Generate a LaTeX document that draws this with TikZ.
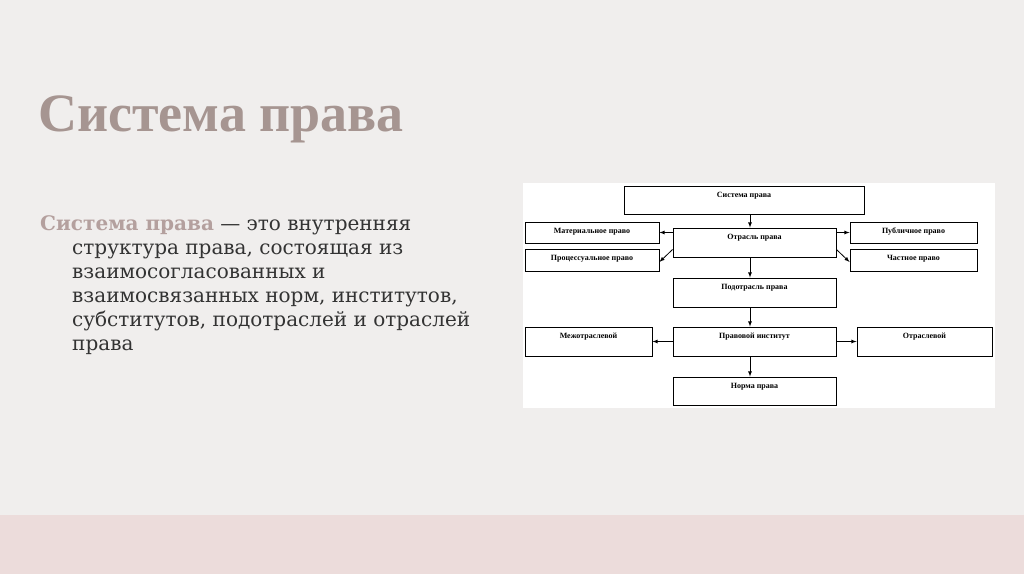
\documentclass[tikz,border=0pt]{standalone}
\usepackage{fontspec}
\setmainfont{Liberation Serif}
\newfontfamily\bodyfont{DejaVu Serif}
\begin{document}
\begin{tikzpicture}[x=1pt,y=-1pt,
  box/.style={draw=black,line width=0.9pt,fill=white,inner sep=0pt},
  lbl/.style={font=\fontsize{8}{9}\selectfont\bfseries,anchor=north},
  arr/.style={-latex,line width=0.8pt},
  body/.style={anchor=base west,inner sep=0pt,text=black!80,font=\bodyfont\fontsize{20}{24}\selectfont}]
\useasboundingbox (0,0) rectangle (1024,574);
\fill[color={rgb,255:red,240;green,238;blue,237}] (0,0) rectangle (1024,574);
\fill[color={rgb,255:red,236;green,220;blue,219}] (0,515) rectangle (1024,574);
\node[anchor=base west,inner sep=0pt,text={rgb,255:red,166;green,149;blue,145},font=\fontsize{54}{58}\selectfont\bfseries] (title) at (38,131) {Система права};
\node[body] (l1) at (40,230) {\textcolor[RGB]{180,160,158}{\bfseries Система права} — это внутренняя};
\node[body] (l2) at (72,254) {структура права, состоящая из};
\node[body] (l3) at (72,278) {взаимосогласованных и};
\node[body] (l4) at (72,302) {взаимосвязанных норм, институтов,};
\node[body] (l5) at (72,326) {субститутов, подотраслей и отраслей};
\node[body] (l6) at (72,350) {права};
% diagram
\fill[white] (523,183) rectangle (995,408);
\newcommand{\bx}[6]{\node[box,minimum width=#4-#2,minimum height=#5-#3] (#1) at ({(#2+#4)/2},{(#3+#5)/2}) {};
  \node[lbl] at ({(#2+#4)/2},#3+2.5) {#6};}
\bx{sys}{624}{186}{864}{214}{Система права}
\bx{otr}{673}{228}{836}{257}{Отрасль права}
\bx{mat}{525}{222}{659}{243}{Материальное право}
\bx{pro}{525}{249}{659}{271}{Процессуальное право}
\bx{pub}{850}{222}{977}{243}{Публичное право}
\bx{cha}{850}{249}{977}{271}{Частное право}
\bx{pod}{673}{278}{836}{307}{Подотрасль права}
\bx{ins}{673}{327}{836}{356}{Правовой институт}
\bx{mez}{525}{327}{652}{356}{Межотраслевой}
\bx{otl}{857}{327}{992}{356}{Отраслевой}
\bx{nor}{673}{377}{836}{405}{Норма права}
\coordinate (cx) at (750,0);
\draw[arr] (sys.south -| cx) -- (otr.north -| cx);
\draw[arr] (otr.west |- mat.east) -- (mat.east);
\draw[arr] (otr.east |- pub.west) -- (pub.west);
\draw[arr] ([yshift=-7pt]otr.west) -- ([yshift=-2pt]pro.east);
\draw[arr] ([yshift=-7pt]otr.east) -- ([yshift=-2pt]cha.west);
\draw[arr] (otr.south -| cx) -- (pod.north -| cx);
\draw[arr] (pod.south -| cx) -- (ins.north -| cx);
\draw[arr] (ins) -- (mez);
\draw[arr] (ins) -- (otl);
\draw[arr] (ins.south -| cx) -- (nor.north -| cx);
\end{tikzpicture}
\end{document}
